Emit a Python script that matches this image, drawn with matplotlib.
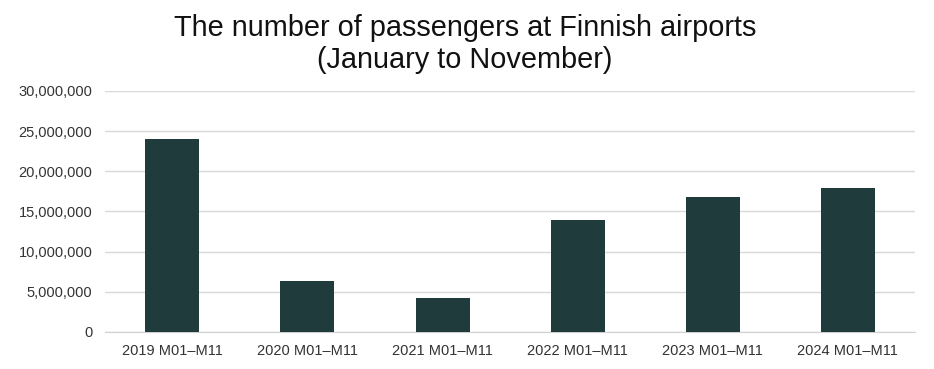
import numpy as np
import matplotlib.pyplot as plt
from matplotlib.ticker import FuncFormatter

plt.rcParams['font.family'] = ['Liberation Sans', 'DejaVu Sans']

years = ['2019 M01–M11', '2020 M01–M11', '2021 M01–M11',
         '2022 M01–M11', '2023 M01–M11', '2024 M01–M11']
passengers = [24060000, 6360000, 4280000, 14000000, 16780000, 17900000]

fig = plt.figure(figsize=(9.34, 3.69), dpi=100)
ax = fig.add_axes([0.1124, 0.1003, 0.8673, 0.6531])

x = np.arange(len(years))
ax.bar(x, passengers, width=0.4, color='#1f3b3c', zorder=3)

ax.set_xlim(-0.5, len(years) - 0.5)
ax.set_ylim(0, 30000000)
ax.set_yticks(np.arange(0, 30000001, 5000000))
ax.yaxis.set_major_formatter(FuncFormatter(lambda v, p: f'{int(v):,}'))
ax.set_xticks(x)
ax.set_xticklabels(years)

ax.grid(axis='y', color='#d9d9d9', linewidth=1, zorder=0)
for s in ['top', 'right', 'left']:
    ax.spines[s].set_visible(False)
ax.spines['bottom'].set_color('#d0d0d0')
ax.tick_params(axis='y', length=0, labelsize=10.5, labelcolor='#333333', pad=9)
ax.tick_params(axis='x', length=0, labelsize=10.5, labelcolor='#333333', pad=9)

fig.suptitle('The number of passengers at Finnish airports\n(January to November)',
             x=0.498, y=0.962, fontsize=20.8, color='#111111', linespacing=1.2)

fig.savefig('out.png', dpi=100)
